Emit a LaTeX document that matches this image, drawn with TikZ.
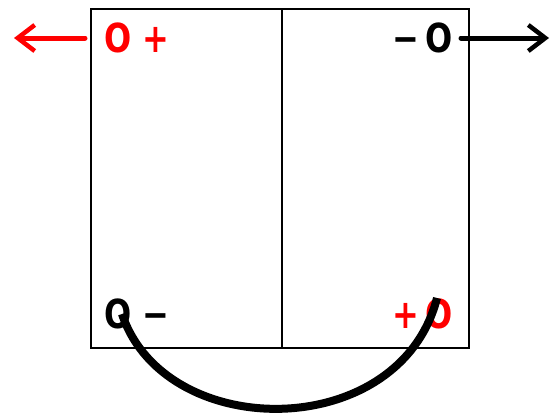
\documentclass[tikz,border=0pt]{standalone}
\usepackage{fontspec}
\newfontfamily\lbl{DejaVu Sans Bold}[FakeStretch=0.8]
\usetikzlibrary{arrows.meta}
\definecolor{myred}{RGB}{255,0,0}
\tikzset{
  lab/.style={inner sep=0pt, font=\lbl\fontsize{40}{40}\selectfont},
  cell/.style={draw=black, line width=1.8pt, minimum height=339pt, inner sep=0pt},
  arr/.style={line width=5pt, line cap=round, -{Straight Barb[length=17pt,width=26pt,line width=4.5pt]}}
}
\begin{document}
\begin{tikzpicture}[x=1pt,y=-1pt]
\useasboundingbox (0,0) rectangle (553,418);
\node[cell, minimum width=191pt, anchor=north west] (L) at (90,8) {};
\node[cell, minimum width=187pt, anchor=north west] (R) at (281,8) {};
\node[lab, text=myred, anchor=base west] (tl) at (104,52) {O +};
\node[lab, text=black, anchor=base east] (tr) at (453,52) {−\,O};
\node[lab, text=black, anchor=base west] (bl) at (104,328) {O −};
\node[lab, text=myred, anchor=base east] (br) at (453,328) {+\,O};
\coordinate (redend) at (14,38);
\coordinate (blkend) at (549,38);
\coordinate (redstart) at (85,38);
\coordinate (blkstart) at (461,38);
\coordinate (arcA) at (122,314);
\coordinate (arcB) at (437,298);
\draw[arr, myred] (redstart) -- (redend);
\draw[arr, black] (blkstart) -- (blkend);
\draw[line width=8pt, black] (arcA) .. controls (165,443) and (400,443) .. (arcB);
\end{tikzpicture}
\end{document}
